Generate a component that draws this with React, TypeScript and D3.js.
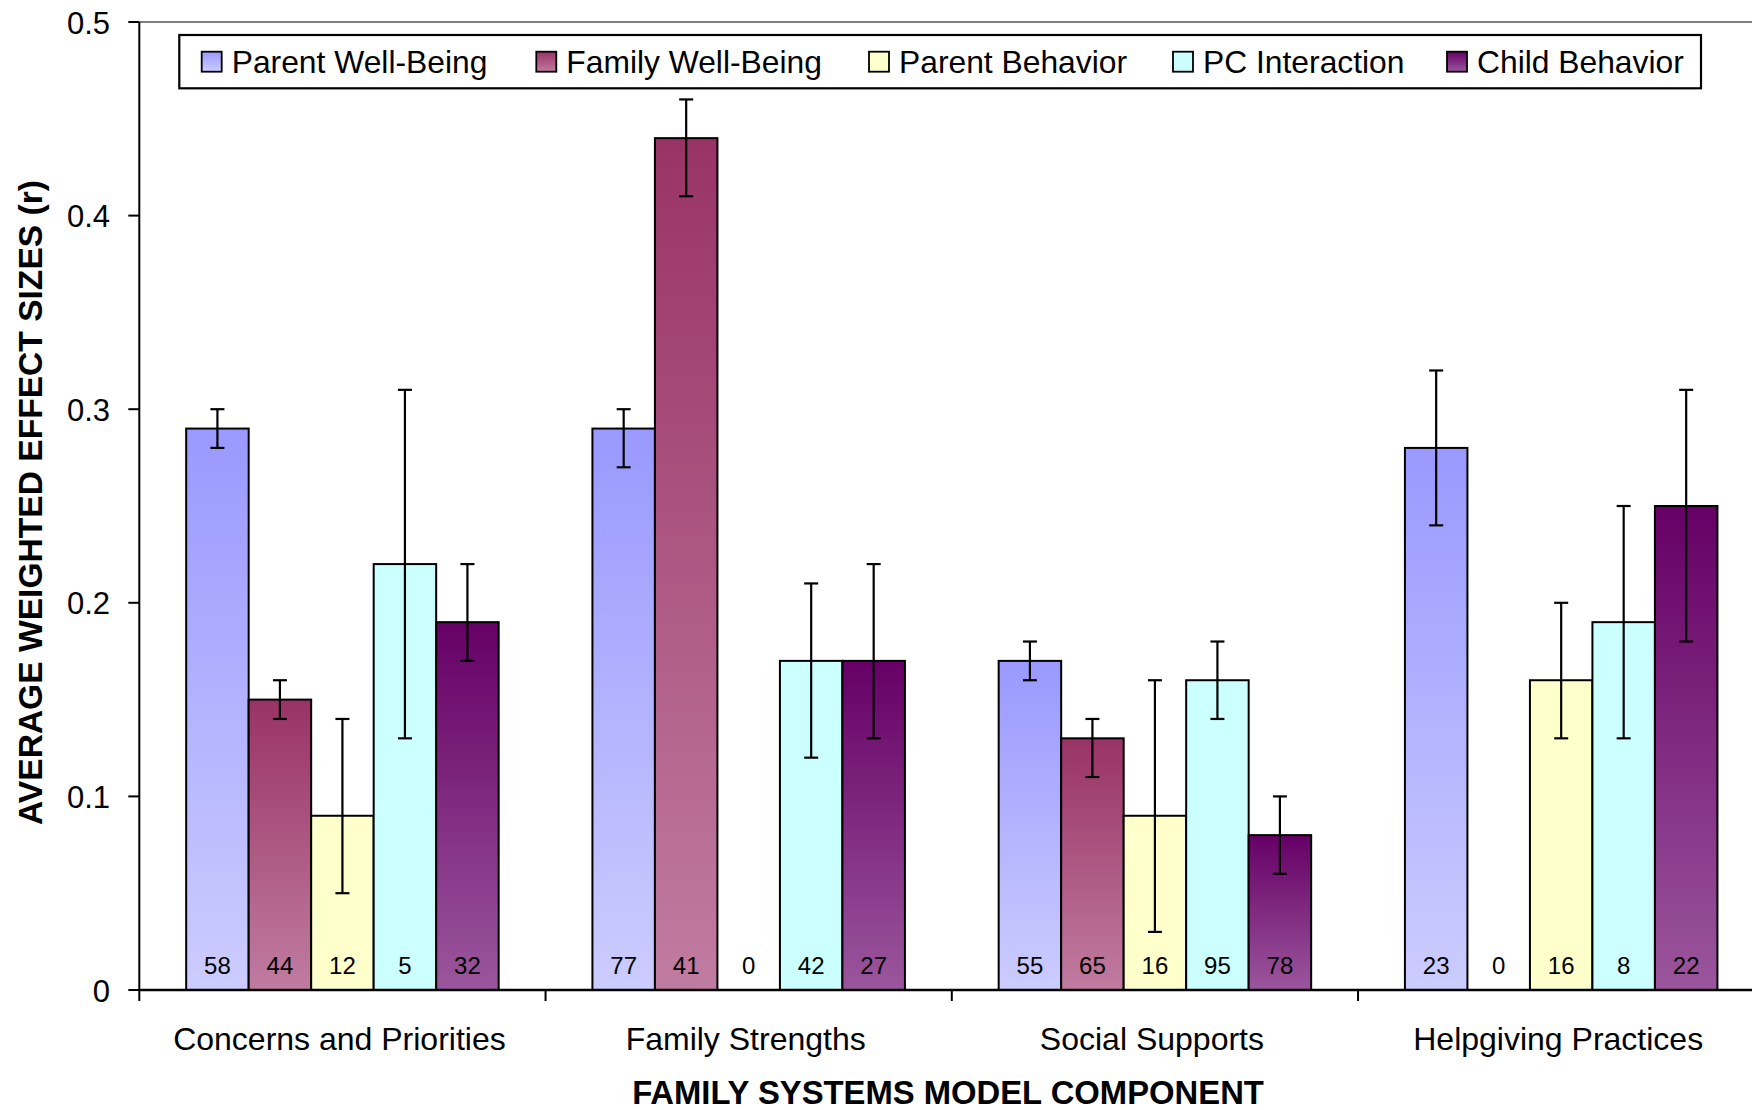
import * as d3 from 'd3';
import { useEffect, useRef } from 'react';

const categories = [
  'Concerns and Priorities',
  'Family Strengths',
  'Social Supports',
  'Helpgiving Practices',
];
const seriesNames = [
  'Parent Well-Being',
  'Family Well-Being',
  'Parent Behavior',
  'PC Interaction',
  'Child Behavior',
];

// mean effect sizes, one array per series (ordered like categories)
const parentWellBeing = [0.29, 0.29, 0.17, 0.28];
const familyWellBeing = [0.15, 0.44, 0.13, 0];
const parentBehavior = [0.09, 0, 0.09, 0.16];
const pcInteraction = [0.22, 0.17, 0.16, 0.19];
const childBehavior = [0.19, 0.17, 0.08, 0.25];

// confidence interval bounds
const lowBounds = [
  [0.28, 0.27, 0.16, 0.24],
  [0.14, 0.41, 0.11, null],
  [0.05, null, 0.03, 0.13],
  [0.13, 0.12, 0.14, 0.13],
  [0.17, 0.13, 0.06, 0.18],
];
const highBounds = [
  [0.3, 0.3, 0.18, 0.32],
  [0.16, 0.46, 0.14, null],
  [0.14, null, 0.16, 0.2],
  [0.31, 0.21, 0.18, 0.25],
  [0.22, 0.22, 0.1, 0.31],
];

// number of studies shown at the foot of each bar
const studyCounts = [
  [58, 77, 55, 23],
  [44, 41, 65, 0],
  [12, 0, 16, 16],
  [5, 42, 95, 8],
  [32, 27, 78, 22],
];

const yTicks = [0, 0.1, 0.2, 0.3, 0.4, 0.5];

const values = [parentWellBeing, familyWellBeing, parentBehavior, pcInteraction, childBehavior];

const gradients = [
  ['#9999FF', '#CCCCFF'],
  ['#993366', '#C07CA0'],
  ['#FFFFCC', '#FFFFCC'],
  ['#CCFFFF', '#CCFFFF'],
  ['#660066', '#9A569C'],
];

// legend layout (marker left edges)
const legendX = [201.7, 536.3, 869, 1173, 1447];

const FONT = "'Liberation Sans', Arial, sans-serif";

export default function App() {
  const svgRef = useRef<SVGSVGElement | null>(null);

  useEffect(() => {
    document.body.style.margin = '0';
    const width = 1752;
    const height = 1110;
    const left = 139.3;
    const groupW = 406.25;
    const top = 22;
    const bottom = 990;

    d3.select(svgRef.current).selectAll('*').remove();
    const svg = d3
      .select(svgRef.current)
      .attr('width', width)
      .attr('height', height)
      .style('display', 'block')
      .style('font-family', FONT);

    const x0 = d3
      .scaleBand<string>()
      .domain(categories)
      .range([left, left + groupW * categories.length]);
    const x1 = d3
      .scaleBand<string>()
      .domain(seriesNames)
      .range([0, x0.bandwidth()])
      .paddingInner(0)
      .paddingOuter(0.75);
    const y = d3.scaleLinear().domain([0, 0.5]).range([bottom, top]);

    // gradients
    const defs = svg.append('defs');
    gradients.forEach(([c1, c2], i) => {
      const g = defs
        .append('linearGradient')
        .attr('id', `grad${i}`)
        .attr('x1', 0)
        .attr('y1', 0)
        .attr('x2', 0)
        .attr('y2', 1);
      g.append('stop').attr('offset', '0%').attr('stop-color', c1);
      g.append('stop').attr('offset', '100%').attr('stop-color', c2);
    });

    svg.append('rect').attr('width', width).attr('height', height).attr('fill', '#fff');

    // top border of plot area
    svg
      .append('line')
      .attr('x1', left)
      .attr('x2', width)
      .attr('y1', top)
      .attr('y2', top)
      .attr('stroke', '#808080')
      .attr('stroke-width', 2);

    // bars
    seriesNames.forEach((s, si) => {
      categories.forEach((c, ci) => {
        const v = values[si][ci];
        const bx = (x0(c) ?? 0) + (x1(s) ?? 0);
        const bw = x1.bandwidth();
        if (v > 0) {
          svg
            .append('rect')
            .attr('x', bx)
            .attr('y', y(v))
            .attr('width', bw)
            .attr('height', y(0) - y(v))
            .attr('fill', `url(#grad${si})`)
            .attr('stroke', '#000')
            .attr('stroke-width', 2);
        }
        const lo = lowBounds[si][ci];
        const hi = highBounds[si][ci];
        if (lo != null && hi != null) {
          const cx = bx + bw / 2;
          const eb = svg.append('g').attr('stroke', '#000').attr('stroke-width', 2.2);
          eb.append('line').attr('x1', cx).attr('x2', cx).attr('y1', y(hi)).attr('y2', y(lo));
          [hi, lo].forEach((b) => {
            eb.append('line')
              .attr('x1', cx - 7)
              .attr('x2', cx + 7)
              .attr('y1', y(b))
              .attr('y2', y(b));
          });
        }
        svg
          .append('text')
          .attr('x', bx + bw / 2)
          .attr('y', y(0) - 16)
          .attr('text-anchor', 'middle')
          .attr('font-size', 24)
          .attr('fill', '#000')
          .text(studyCounts[si][ci]);
      });
    });

    // y axis
    svg
      .append('line')
      .attr('x1', left)
      .attr('x2', left)
      .attr('y1', top)
      .attr('y2', bottom)
      .attr('stroke', '#000')
      .attr('stroke-width', 2);
    yTicks.forEach((t) => {
      svg
        .append('line')
        .attr('x1', left - 11)
        .attr('x2', left)
        .attr('y1', y(t))
        .attr('y2', y(t))
        .attr('stroke', '#000')
        .attr('stroke-width', 2);
      svg
        .append('text')
        .attr('x', 110)
        .attr('y', y(t) + 11.5)
        .attr('text-anchor', 'end')
        .attr('font-size', 31)
        .text(String(t));
    });

    // x axis
    svg
      .append('line')
      .attr('x1', left)
      .attr('x2', width)
      .attr('y1', bottom)
      .attr('y2', bottom)
      .attr('stroke', '#000')
      .attr('stroke-width', 2.5);
    categories.forEach((c) => {
      const gx = x0(c) ?? 0;
      svg
        .append('line')
        .attr('x1', gx)
        .attr('x2', gx)
        .attr('y1', bottom)
        .attr('y2', bottom + 11)
        .attr('stroke', '#000')
        .attr('stroke-width', 2);
      svg
        .append('text')
        .attr('x', gx + x0.bandwidth() / 2 - 3)
        .attr('y', 1050)
        .attr('text-anchor', 'middle')
        .attr('font-size', 32)
        .text(c);
    });

    // axis titles
    svg
      .append('text')
      .attr('x', 948)
      .attr('y', 1104)
      .attr('text-anchor', 'middle')
      .attr('font-size', 32.8)
      .attr('font-weight', 'bold')
      .text('FAMILY SYSTEMS MODEL COMPONENT');
    svg
      .append('text')
      .attr('transform', `translate(42,${(178 + 827) / 2}) rotate(-90)`)
      .attr('text-anchor', 'middle')
      .attr('font-size', 33.6)
      .attr('font-weight', 'bold')
      .text('AVERAGE WEIGHTED EFFECT SIZES (r)');

    // legend
    const legend = svg.append('g');
    legend
      .append('rect')
      .attr('x', 179.3)
      .attr('y', 35)
      .attr('width', 1701 - 179.3)
      .attr('height', 53.3)
      .attr('fill', '#fff')
      .attr('stroke', '#000')
      .attr('stroke-width', 2.2);
    seriesNames.forEach((s, si) => {
      const lx = legendX[si];
      legend
        .append('rect')
        .attr('x', lx)
        .attr('y', 51.7)
        .attr('width', 20)
        .attr('height', 20)
        .attr('fill', `url(#grad${si})`)
        .attr('stroke', '#000')
        .attr('stroke-width', 1.8);
      legend
        .append('text')
        .attr('x', lx + 30)
        .attr('y', 72.7)
        .attr('font-size', 31.8)
        .text(s);
    });
  }, []);

  return <svg ref={svgRef} />;
}
